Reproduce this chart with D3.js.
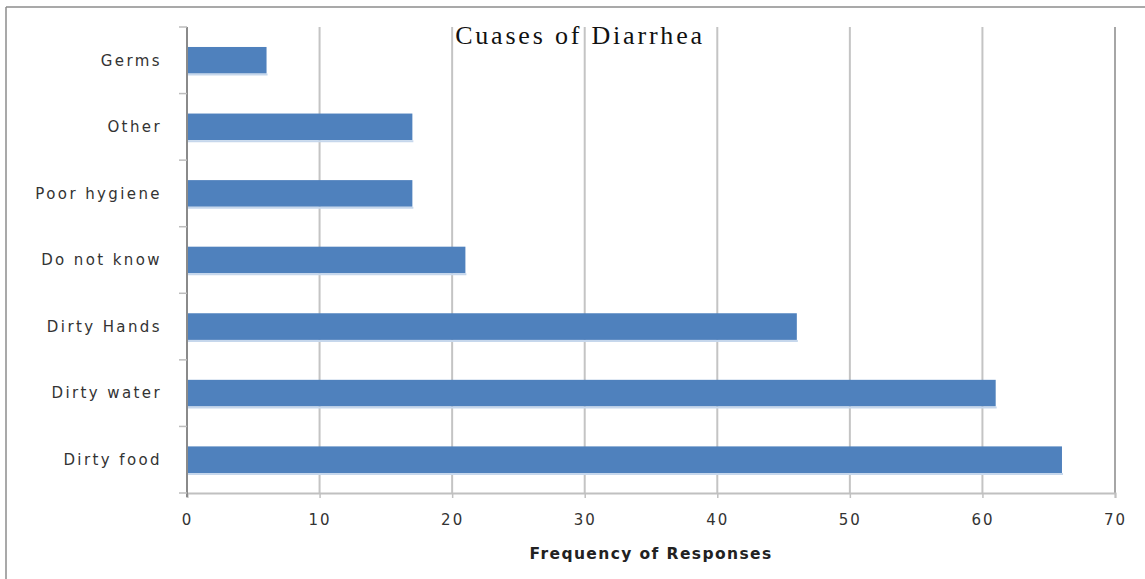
<!DOCTYPE html>
<html>
<head>
<meta charset="utf-8">
<script src="https://cdn.jsdelivr.net/npm/d3@7"></script>
<style>
  html, body { margin: 0; padding: 0; background: #fff; }
  svg { display: block; }
</style>
</head>
<body>
<svg id="chart" width="1145" height="579"></svg>
<script>
// Causes of diarrhea, listed top to bottom as shown on the axis
const categories = ["Germs", "Other", "Poor hygiene", "Do not know", "Dirty Hands", "Dirty water", "Dirty food"];
const responses = [6, 17, 17, 21, 46, 61, 66];
const xTicks = [0, 10, 20, 30, 40, 50, 60, 70];
const chartTitle = "Cuases of Diarrhea";
const xTitle = "Frequency of Responses";

const svg = d3.select("#chart");
const W = 1145, H = 579;
const plot = { left: 187, right: 1115, top: 27, bottom: 493 };

// outer frame: top and left edges only
svg.append("line").attr("x1", 6).attr("x2", W).attr("y1", 7).attr("y2", 7)
  .attr("stroke", "#8c8c8c").attr("stroke-width", 1.5);
svg.append("line").attr("x1", 6).attr("x2", 6).attr("y1", 7).attr("y2", H)
  .attr("stroke", "#8c8c8c").attr("stroke-width", 1.5);

const x = d3.scaleLinear().domain([0, 70]).range([plot.left, plot.right]);
const y = d3.scaleBand().domain(categories).range([plot.top, plot.bottom]).paddingInner(0.6).paddingOuter(0.3);
const yb = d3.scaleBand().domain(categories).range([plot.top, plot.bottom]);

// vertical gridlines
svg.append("g").selectAll("line").data(xTicks.filter(t => t > 0)).join("line")
  .attr("x1", d => x(d)).attr("x2", d => x(d))
  .attr("y1", plot.top).attr("y2", plot.bottom)
  .attr("stroke", d => d === 70 ? "#a6a6a6" : "#c4c4c4").attr("stroke-width", 2);

// bars
svg.append("g").selectAll("rect").data(categories).join("rect")
  .attr("x", x(0))
  .attr("y", d => y(d))
  .attr("width", (d, i) => x(responses[i]) - x(0))
  .attr("height", y.bandwidth())
  .attr("fill", "#4f81bd");
// pale lower edge of each bar
svg.append("g").selectAll("line").data(categories).join("line")
  .attr("x1", x(0)).attr("x2", (d, i) => x(responses[i]) + 1)
  .attr("y1", d => y(d) + y.bandwidth() + 1).attr("y2", d => y(d) + y.bandwidth() + 1)
  .attr("stroke", "#c6d7ec").attr("stroke-width", 2);

// bottom axis
const xAxis = svg.append("g").attr("transform", `translate(0,${plot.bottom})`)
  .call(d3.axisBottom(x).tickValues(xTicks).tickSize(5).tickPadding(16));
xAxis.select(".domain").attr("stroke", "#c0c0c0").attr("stroke-width", 2);
xAxis.selectAll(".tick line").attr("stroke", "#c0c0c0").attr("stroke-width", 1.5);
xAxis.selectAll(".tick text")
  .attr("font-family", "DejaVu Sans, sans-serif").attr("font-size", 15)
  .attr("letter-spacing", "2px").attr("fill", "#333");

// left axis: category names, ticks between bands
const yAxisG = svg.append("g");
yAxisG.append("line").attr("x1", plot.left).attr("x2", plot.left)
  .attr("y1", plot.top).attr("y2", plot.bottom + 4)
  .attr("stroke", "#8a8a8a").attr("stroke-width", 2);
const boundaries = categories.map(c => yb(c)).concat([plot.bottom]);
yAxisG.selectAll("line.tk").data(boundaries).join("line").attr("class", "tk")
  .attr("x1", plot.left - 8).attr("x2", plot.left)
  .attr("y1", d => d).attr("y2", d => d)
  .attr("stroke", "#bdbdbd").attr("stroke-width", 1.5);
yAxisG.selectAll("text").data(categories).join("text")
  .attr("x", 162)
  .attr("y", d => yb(d) + yb.bandwidth() / 2)
  .attr("dy", "0.35em")
  .attr("text-anchor", "end")
  .attr("font-family", "DejaVu Sans, sans-serif").attr("font-size", 15)
  .attr("letter-spacing", "2.4px").attr("fill", "#333")
  .text(d => d);

// titles
svg.append("text").attr("x", 580).attr("y", 44).attr("text-anchor", "middle")
  .attr("font-family", "Liberation Serif, Times New Roman, serif").attr("font-size", 26)
  .attr("letter-spacing", "2.8px").attr("fill", "#111")
  .text(chartTitle);
svg.append("text").attr("x", 651).attr("y", 559).attr("text-anchor", "middle")
  .attr("font-family", "DejaVu Sans, sans-serif").attr("font-size", 15.5).attr("font-weight", "bold")
  .attr("letter-spacing", "1.4px").attr("fill", "#222")
  .text(xTitle);
</script>
</body>
</html>
